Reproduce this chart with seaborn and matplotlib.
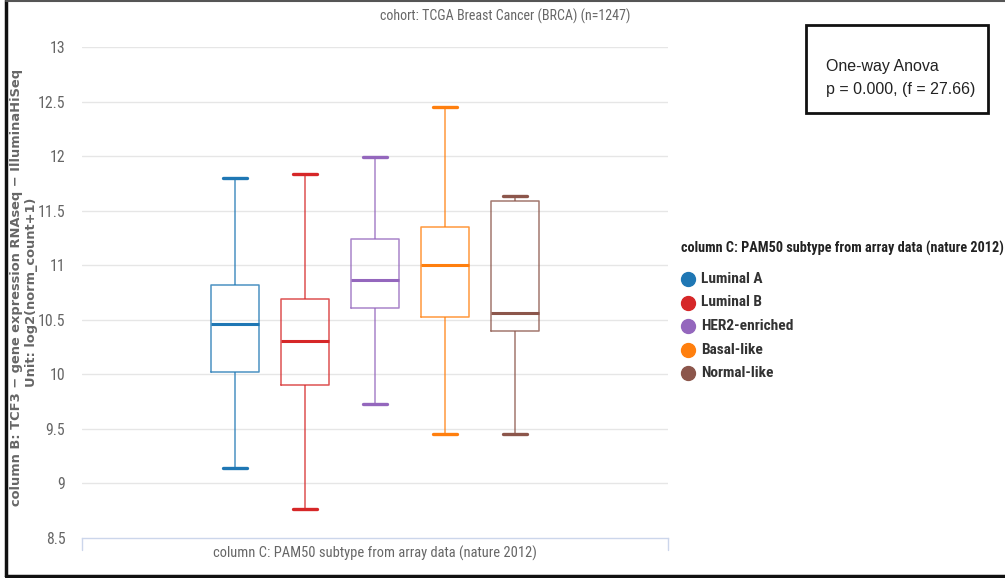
import numpy as np
import pandas as pd
import matplotlib
matplotlib.use("Agg")
import matplotlib.pyplot as plt
from matplotlib.lines import Line2D
from matplotlib.patches import Rectangle
from matplotlib import font_manager as fm
import seaborn as sns

# PAM50 subtypes and five-number summaries of TCF3 expression
subtypes = ["Luminal A", "Luminal B", "HER2-enriched", "Basal-like", "Normal-like"]
minimum = [9.14, 8.77, 9.73, 9.45, 9.45]
q1 = [10.02, 9.90, 10.61, 10.53, 10.40]
median = [10.46, 10.31, 10.86, 11.00, 10.56]
q3 = [10.82, 10.69, 11.24, 11.35, 11.59]
maximum = [11.80, 11.84, 11.99, 12.45, 11.63]
colors = ["#1f77b4", "#d62728", "#9467bd", "#ff7f0e", "#8c564b"]
yticks = [8.5, 9, 9.5, 10, 10.5, 11, 11.5, 12, 12.5, 13]

# five values per group reproduce the summary exactly (linear percentiles)
rows = []
for name, a, b, c, d, e in zip(subtypes, minimum, q1, median, q3, maximum):
    for v in (a, b, c, d, e):
        rows.append({"subtype": name, "value": v})
df = pd.DataFrame(rows)

sns.set_theme(style="white")
plt.rcParams["font.family"] = ["DejaVu Sans"]

# narrowest installed sans face for the chart texts
files = {f.fname.split("/")[-1]: f.fname for f in fm.fontManager.ttflist}
candidates = [
    ("LiberationSansNarrow-Regular.ttf", "LiberationSansNarrow-Bold.ttf"),
    ("NotoSans-ExtraCondensed.ttf", "NotoSans-ExtraCondensedSemiBold.ttf"),
    ("NotoSans-Condensed.ttf", "NotoSans-CondensedSemiBold.ttf"),
    ("RobotoCondensed-Regular.ttf", "RobotoCondensed-Bold.ttf"),
    ("DejaVuSansCondensed.ttf", "DejaVuSansCondensed-Bold.ttf"),
]
reg_path, bold_path = None, None
for r, b in candidates:
    if r in files:
        reg_path = files[r]
        bold_path = files.get(b, files[r])
        break


def cond(size, bold=False):
    p = bold_path if bold else reg_path
    if p:
        return fm.FontProperties(fname=p, size=size)
    return fm.FontProperties(family="DejaVu Sans", size=size,
                             weight="bold" if bold else "normal",
                             stretch="condensed")


W, H = 1005, 578
fig = plt.figure(figsize=(W / 100, H / 100), dpi=100)
renderer = fig.canvas.get_renderer()


def fit_width(txt, width_px):
    """Scale a text's font size so that it spans width_px pixels."""
    ext = txt.get_window_extent(renderer=renderer)
    txt.set_fontsize(txt.get_fontsize() * width_px / ext.width)


ax = fig.add_axes([82 / W, (H - 538) / H, (668 - 82) / W, (538 - 47) / H])

sns.boxplot(data=df, x="subtype", y="value", hue="subtype", order=subtypes,
            hue_order=subtypes, palette=colors, fill=False, whis=(0, 100),
            width=0.69, linewidth=1.2, legend=False, ax=ax,
            showfliers=False)

# restyle each box: lighter outline, heavier median and caps
for i, col in enumerate(colors):
    if i < len(ax.patches):
        patch = ax.patches[i]
        patch.set_edgecolor(col)
        patch.set_alpha(0.75)
        patch.set_linewidth(1.3)
for ln in ax.lines:
    xd = ln.get_xdata()
    yd = ln.get_ydata()
    if len(xd) == 2 and yd[0] == yd[1]:
        width = abs(xd[1] - xd[0])
        if width > 0.5:
            ln.set_linewidth(2.2)
        else:
            cx = (xd[0] + xd[1]) / 2
            ln.set_xdata([cx - 0.17, cx + 0.17])
            ln.set_linewidth(2.4)
    else:
        ln.set_alpha(0.8)
        ln.set_linewidth(1.1)

ax.set_xlim(2 - 4.186, 2 + 4.186)
ax.set_ylim(8.5, 13)
ax.set_yticks(yticks)
ax.set_yticklabels([f"{t:g}" for t in yticks], color="#666666")
ax.set_xticks([])
ax.tick_params(axis="y", length=0, pad=12)
for t in yticks[1:]:
    ax.axhline(t, color="#e6e6e6", lw=1, zorder=0)
for s in ["top", "right", "left"]:
    ax.spines[s].set_visible(False)
ax.spines["bottom"].set_color("#ccd6eb")
ax.spines["bottom"].set_linewidth(1)
for xe in (0, 1):
    ax.plot([xe, xe], [0, -0.025], transform=ax.transAxes, color="#ccd6eb",
            lw=1, clip_on=False)
ax.set_xlabel("")
ax.set_ylabel("")

xlab = fig.text(375 / W, 1 - 553 / H,
                "column C: PAM50 subtype from array data (nature 2012)",
                ha="center", va="center", color="#666666",
                fontproperties=cond(10))
fit_width(xlab, 322)
base_size = xlab.get_fontsize()
for lab in ax.get_yticklabels():
    lab.set_fontproperties(cond(base_size * 1.08))

# axis title on two lines
fig.text(16.5 / W, 1 - 287 / H,
         "column B: TCF3 \u2212 gene expression RNAseq \u2212 IlluminaHiSeq",
         rotation=90, ha="center", va="center", color="#666666",
         fontsize=9.4, family="DejaVu Sans", fontweight="semibold")
fig.text(31 / W, 1 - 292 / H, "Unit: log2(norm_count+1)",
         rotation=90, ha="center", va="center", color="#666666",
         fontsize=9.4, family="DejaVu Sans", fontweight="semibold")

ttl = fig.text(505 / W, 1 - 16 / H, "cohort: TCGA Breast Cancer (BRCA) (n=1247)",
               ha="center", va="center", color="#666666",
               fontproperties=cond(10))
fit_width(ttl, 250)

# legend
leg_title = fig.text(681 / W, 1 - 248 / H,
                     "column C: PAM50 subtype from array data (nature 2012)",
                     ha="left", va="center", color="#222222",
                     fontproperties=cond(10, True))
fit_width(leg_title, 322)
leg_size = leg_title.get_fontsize()
for k, (name, col) in enumerate(zip(subtypes, colors)):
    yy = 1 - (279 + k * 23.5) / H
    fig.add_artist(Line2D([688 / W], [yy], marker="o", markersize=10,
                          color=col, transform=fig.transFigure, linestyle=""))
    fig.text(701 / W, yy, name, ha="left", va="center", color="#333333",
             fontproperties=cond(leg_size * 1.08, True))

# statistics box
fig.add_artist(Rectangle((806 / W, 1 - 113 / H), (988 - 806) / W, (113 - 25) / H,
                         transform=fig.transFigure, fill=False,
                         edgecolor="#111111", lw=2))
fig.text(826 / W, 1 - 66 / H, "One-way Anova", ha="left", va="center",
         color="#222222", fontsize=11.5, family="Liberation Sans")
fig.text(826 / W, 1 - 90 / H, "p = 0.000, (f = 27.66)", ha="left", va="center",
         color="#222222", fontsize=11.5, family="Liberation Sans")

# outer frame
fig.add_artist(Line2D([5.5 / W, 5.5 / W], [1, 1 - 576 / H], color="#111111",
                      lw=2.5, transform=fig.transFigure))
fig.add_artist(Line2D([5.5 / W, 1], [1 - 576 / H, 1 - 576 / H], color="#111111",
                      lw=2.5, transform=fig.transFigure))
fig.add_artist(Line2D([5.5 / W, 1], [1 - 1 / H, 1 - 1 / H], color="#555555",
                      lw=1.5, transform=fig.transFigure))

fig.savefig("out.png", dpi=100)
